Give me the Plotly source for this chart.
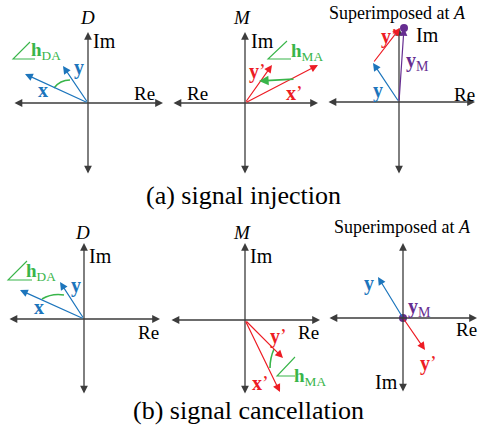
import plotly.graph_objects as go

# ---------------- data: vector components (re, im) ----------------
inj_D_x = (-63, 29)
inj_D_y = (-25, 37)
inj_M_x = (73, 38)
inj_M_y = (27, 38)
inj_A_y = (-26, 39)
inj_A_yp = (27, 35)
inj_A_yM = (5, 74)

can_D_x = (-64, 29)
can_D_y = (-24, 37)
can_M_x = (35, -72)
can_M_y = (38, -38)
can_A_y = (-25, 41)
can_A_yp = (22, -32)
can_A_yM = (0, 0)

panel_titles = ["<i>D</i>", "<i>M</i>", "Superimposed at <i>A</i>"]
captions = ["(a) signal injection", "(b) signal cancellation"]

# ---------------- layout helpers ----------------
BLUE = "rgb(28,117,188)"
RED = "rgb(237,28,36)"
GREEN = "rgb(57,181,74)"
PURPLE = "rgb(102,45,145)"
AXC = "rgb(60,60,60)"
FONT = "Liberation Serif, Times New Roman, serif"

fig = go.Figure()
ann = []
shapes = []


def P(o, v):
    return (o[0] + v[0], o[1] - v[1])


def arrow(p0, p1, color, width=1.2, size=1.3, both=False, head=2):
    ann.append(dict(x=p1[0], y=p1[1], ax=p0[0], ay=p0[1], xref="x", yref="y",
                    axref="x", ayref="y", text="", showarrow=True,
                    arrowhead=head, arrowsize=size, arrowwidth=width,
                    arrowcolor=color, arrowside="end+start" if both else "end",
                    startarrowhead=head, startarrowsize=size))


def label(x, y, text, color="black", size=19, xanchor="center"):
    ann.append(dict(x=x, y=y, xref="x", yref="y", text=text, showarrow=False,
                    font=dict(family=FONT, size=size, color=color),
                    xanchor=xanchor, yanchor="middle"))


def axes(o, left, right, up, down):
    arrow((o[0] - left, o[1]), (o[0] + right, o[1]), AXC, 1.3, 1.2, True)
    arrow((o[0], o[1] + down), (o[0], o[1] - up), AXC, 1.3, 1.2, True)


def curved(p0, c, p1, color):
    shapes.append(dict(type="path", xref="x", yref="y",
                       path=f"M {p0[0]},{p0[1]} Q {c[0]},{c[1]} {p1[0]},{p1[1]}",
                       line=dict(color=color, width=1.6)))
    dx, dy = p1[0] - c[0], p1[1] - c[1]
    n = (dx * dx + dy * dy) ** 0.5
    arrow((p1[0] - dx / n * 2, p1[1] - dy / n * 2), p1, color, 1.6, 1.2)


def angle_sym(corner, top, right, color=GREEN):
    shapes.append(dict(type="path", xref="x", yref="y",
                       path=f"M {top[0]},{top[1]} L {corner[0]},{corner[1]} L {right[0]},{right[1]}",
                       line=dict(color=color, width=1.1)))


# ---------------- (a) signal injection ----------------
O1 = (88, 103)
axes(O1, 75, 75, 71, 72)
label(87, 17, panel_titles[0], size=19)
label(91, 41, "Im", xanchor="left", size=20)
label(144, 93, "Re")
arrow(O1, P(O1, inj_D_x), BLUE)
arrow(O1, P(O1, inj_D_y), BLUE)
label(43, 90, "<b>x</b>", BLUE, size=20)
label(79, 67, "<b>y</b>", BLUE, size=20)
curved((54, 88), (60, 80), (70, 80), GREEN)
angle_sym((13, 59), (30, 42), (35, 59))
label(29, 51, "<b>h</b><sub>DA</sub>", GREEN, xanchor="left")

O2 = (245, 103)
axes(O2, 73, 73, 71, 72)
label(242, 17, panel_titles[1], size=19)
label(249, 41, "Im", xanchor="left", size=20)
label(197, 93, "Re")
arrow(O2, P(O2, inj_M_x), RED)
arrow(O2, P(O2, inj_M_y), RED)
label(257, 71, "<b>y</b>’", RED, size=20)
label(294, 93, "<b>x</b>’", RED, size=20)
arrow((295, 79), (259, 81), GREEN, 1.6, 1.2)
angle_sym((268, 59), (287, 41), (291, 59))
label(289, 52, "<b>h</b><sub>MA</sub>", GREEN, xanchor="left")

O3 = (399, 102)
axes(O3, 72, 76, 74, 73)
label(397, 13, panel_titles[2], size=18)
label(414, 35, "Im", xanchor="left", size=20)
label(464, 94, "Re")
pY = P(O3, inj_A_y)
arrow(O3, pY, BLUE)
arrow(pY, P(pY, inj_A_yp), RED)
arrow(O3, P(O3, inj_A_yM), PURPLE)
label(378, 90, "<b>y</b>", BLUE, size=20)
label(389, 36, "<b>y</b>’", RED, size=20)
label(417, 61, "<b>y</b><sub>M</sub>", PURPLE, size=20)
fig.add_trace(go.Scatter(x=[P(O3, inj_A_yM)[0]], y=[P(O3, inj_A_yM)[1]], mode="markers",
                         marker=dict(color=PURPLE, size=8), showlegend=False, hoverinfo="skip"))

label(243, 195, captions[0], size=26)

# ---------------- (b) signal cancellation ----------------
O4 = (84, 319)
axes(O4, 76, 76, 76, 76)
label(82, 232, panel_titles[0], size=19)
label(87, 256, "Im", xanchor="left", size=20)
label(148, 332, "Re")
arrow(O4, P(O4, can_D_x), BLUE)
arrow(O4, P(O4, can_D_y), BLUE)
label(39, 307, "<b>x</b>", BLUE, size=20)
label(76, 285, "<b>y</b>", BLUE, size=20)
curved((42, 299), (52, 293), (64, 295), GREEN)
angle_sym((8, 280), (27, 261), (32, 280))
label(24, 272, "<b>h</b><sub>DA</sub>", GREEN, xanchor="left")

O5 = (245, 320)
axes(O5, 75, 75, 77, 75)
label(242, 232, panel_titles[1], size=19)
label(248, 256, "Im", xanchor="left", size=20)
label(308, 332, "Re")
arrow(O5, P(O5, can_M_x), RED)
arrow(O5, P(O5, can_M_y), RED)
label(278, 336, "<b>y</b>’", RED, size=20)
label(260, 383, "<b>x</b>’", RED, size=20)
curved((270, 368), (270, 358), (274, 349), GREEN)
angle_sym((277, 376), (295, 357), (295, 376))
label(292, 377, "<b>h</b><sub>MA</sub>", GREEN, xanchor="left")

O6 = (403, 318)
axes(O6, 75, 74, 75, 75)
label(402, 227, panel_titles[2], size=18)
arrow(O6, P(O6, can_A_y), BLUE)
arrow(O6, P(O6, can_A_yp), RED)
label(369, 283, "<b>y</b>", BLUE, size=20)
label(419, 307, "<b>y</b><sub>M</sub>", PURPLE, size=20)
label(428, 363, "<b>y</b>’", RED, size=20)
label(466, 329, "Re")
label(386, 382, "Im", size=20)
fig.add_trace(go.Scatter(x=[P(O6, can_A_yM)[0]], y=[P(O6, can_A_yM)[1]], mode="markers",
                         marker=dict(color=PURPLE, size=8), showlegend=False, hoverinfo="skip"))

label(248, 410, captions[1], size=26)

fig.update_layout(
    width=479, height=428, autosize=False,
    margin=dict(l=0, r=0, t=0, b=0, pad=0),
    paper_bgcolor="white", plot_bgcolor="white",
    xaxis=dict(range=[0, 479], visible=False, fixedrange=True),
    yaxis=dict(range=[428, 0], visible=False, fixedrange=True),
    annotations=ann, shapes=shapes, showlegend=False,
)

fig.write_html("out.html", config={"displayModeBar": False},
               post_script="document.body.style.margin='0';document.body.style.overflow='hidden';")
